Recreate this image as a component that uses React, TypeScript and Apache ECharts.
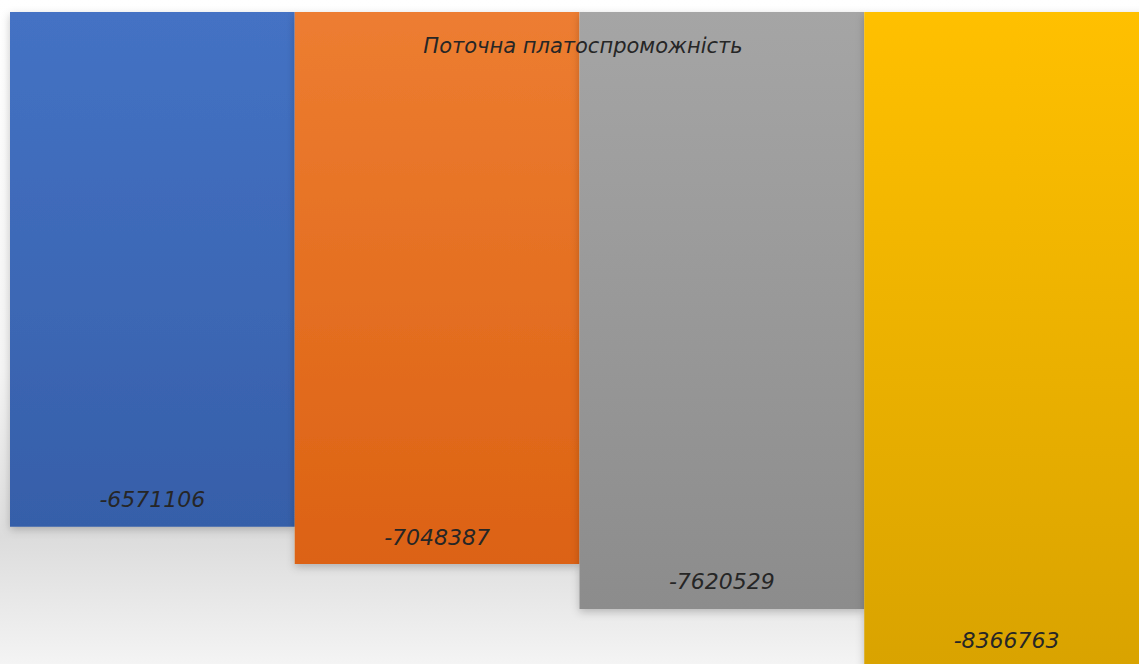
import React, { useEffect, useRef } from "react";
import * as echarts from "echarts";

const titleText = "Поточна платоспроможність";
const categories = ["1", "2", "3", "4"];
const values = [-6571106, -7048387, -7620529, -8366763];
const topColors = ["#4472C4", "#ED7D31", "#A5A5A5", "#FFC000"];
const bottomColors = ["#365FA9", "#DC6213", "#8C8C8C", "#D9A300"];

export default function App() {
  const ref = useRef<HTMLDivElement>(null);
  useEffect(() => {
    document.body.style.margin = "0";
    document.body.style.overflow = "hidden";
    document.documentElement.style.overflow = "hidden";
    const chart = echarts.init(ref.current!, null, { renderer: "svg" });
    chart.setOption({
      animation: false,
      backgroundColor: {
        type: "linear",
        x: 0,
        y: 0,
        x2: 0,
        y2: 1,
        colorStops: [
          { offset: 0, color: "#ffffff" },
          { offset: 0.55, color: "#f4f4f4" },
          { offset: 0.8, color: "#dcdcdc" },
          { offset: 1, color: "#f5f5f5" },
        ],
      },
      title: {
        text: titleText,
        left: 578,
        top: 30,
        textAlign: "center",
        textStyle: {
          fontFamily: "DejaVu Sans",
          fontStyle: "italic",
          fontWeight: "normal",
          fontSize: 21,
          color: "#262626",
        },
      },
      grid: { left: 10, right: 0, top: 12, bottom: 0 },
      xAxis: {
        type: "category",
        data: categories,
        show: false,
      },
      yAxis: {
        type: "value",
        min: -8400000,
        max: 0,
        show: false,
        splitLine: { show: false },
      },
      series: [
        {
          type: "bar",
          barCategoryGap: "0%",
          z: 1,
          data: values.map((v, i) => ({
            value: v,
            itemStyle: {
              color: {
                type: "linear",
                x: 0,
                y: 0,
                x2: 0,
                y2: 1,
                colorStops: [
                  { offset: 0, color: topColors[i] },
                  { offset: 1, color: bottomColors[i] },
                ],
              },
              shadowBlur: 8,
              shadowOffsetY: 3,
              shadowColor: "rgba(0,0,0,0.22)",
            },
          })),
          label: {
            show: true,
            position: "insideBottom",
            distance: 16,
            fontFamily: "DejaVu Sans",
            fontStyle: "italic",
            fontSize: 22,
            color: "#262626",
          },
        },
      ],
    });
    return () => chart.dispose();
  }, []);
  return <div ref={ref} style={{ width: 1149, height: 670 }} />;
}
